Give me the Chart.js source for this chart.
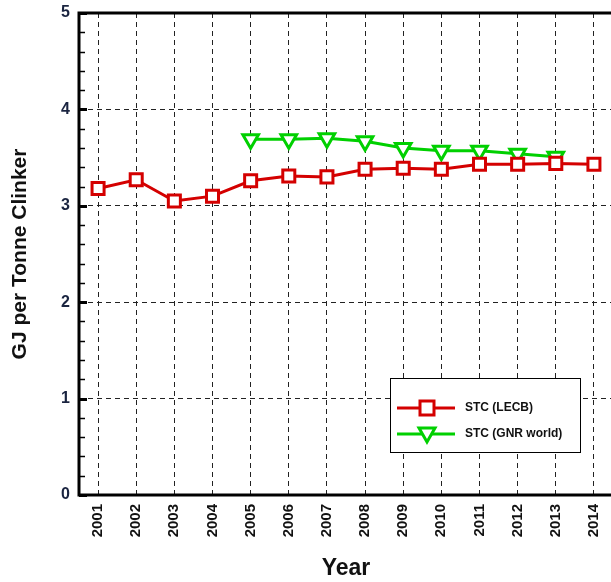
<!DOCTYPE html>
<html><head><meta charset="utf-8">
<script src="https://cdn.jsdelivr.net/npm/chart.js@4/dist/chart.umd.min.js"></script>
<style>html,body{margin:0;padding:0;overflow:hidden;background:#fff}#wrap{width:625px;height:582px}</style>
</head><body><div id="wrap"><canvas id="c" width="625" height="582"></canvas></div>
<script>
const years = ['2001','2002','2003','2004','2005','2006','2007','2008','2009','2010','2011','2012','2013','2014'];
const lecb = [3.18,3.27,3.05,3.10,3.26,3.31,3.30,3.38,3.39,3.38,3.43,3.43,3.44,3.43];
const gnr = [null,null,null,null,3.69,3.69,3.70,3.67,3.60,3.57,3.57,3.54,3.51,null];
const yTicks = [0,1,2,3,4,5];
const seriesNames = ['STC (LECB)','STC (GNR world)'];
const RED = '#d40000', GREEN = '#00d000';

const frame = {
  id:'frame',
  beforeDatasetsDraw(chart){
    const {ctx, chartArea:a, scales:{y}} = chart;
    ctx.save();
    ctx.strokeStyle='#000';
    for(let v=0; v<=5.0001; v+=0.2){
      const py = Math.round(y.getPixelForValue(v))+0.5;
      const major = Math.abs(v-Math.round(v))<1e-6;
      ctx.beginPath(); ctx.moveTo(a.left, py); ctx.lineTo(a.left+(major?8:6), py);
      ctx.lineWidth = major?3:1.5; ctx.stroke();
    }
    ctx.restore();
  },
  afterDraw(chart){
    const {ctx, chartArea:a} = chart;
    ctx.save();
    ctx.strokeStyle='#000'; ctx.lineWidth=3;
    ctx.strokeRect(a.left, a.top, a.right-a.left, a.bottom-a.top);
    const lx=390, ly=378, lw=190, lh=74;
    ctx.fillStyle='#fff'; ctx.fillRect(lx,ly,lw,lh);
    ctx.lineWidth=1; ctx.strokeStyle='#000'; ctx.strokeRect(lx+0.5,ly+0.5,lw,lh);
    const rows=[{y:408,c:RED,s:'rect'},{y:434,c:GREEN,s:'tri'}];
    rows.forEach((r,i)=>{
      ctx.strokeStyle=r.c; ctx.lineWidth=3;
      ctx.beginPath(); ctx.moveTo(397,r.y); ctx.lineTo(455,r.y); ctx.stroke();
      ctx.fillStyle='#fff';
      if(r.s==='rect'){ ctx.fillRect(420,r.y-7,14,14); ctx.strokeRect(420,r.y-7,14,14); }
      else { ctx.beginPath(); ctx.moveTo(419,r.y-6); ctx.lineTo(435,r.y-6); ctx.lineTo(427,r.y+8); ctx.closePath(); ctx.fill(); ctx.stroke(); }
      ctx.fillStyle='#111'; ctx.font='bold 12px "Liberation Sans", Arial, sans-serif';
      ctx.textBaseline='middle'; ctx.textAlign='left';
      ctx.fillText(seriesNames[i], 465, r.y);
    });
    ctx.restore();
  }
};

new Chart(document.getElementById('c'), {
  type:'line',
  data:{labels:years, datasets:[
    {label:seriesNames[0], data:lecb, borderColor:RED, backgroundColor:'#fff', borderWidth:3,
     pointStyle:'rect', pointRadius:8.5, pointBorderWidth:3, pointBackgroundColor:'#fff', pointBorderColor:RED, tension:0},
    {label:seriesNames[1], data:gnr, borderColor:GREEN, backgroundColor:'#fff', borderWidth:3,
     pointStyle:'triangle', rotation:180, pointRadius:9, pointBorderWidth:3, pointBackgroundColor:'#fff', pointBorderColor:GREEN, tension:0, spanGaps:false}
  ]},
  options:{
    responsive:false, animation:false, devicePixelRatio:1,
    layout:{padding:{top:13, right:7, left:0, bottom:0}},
    plugins:{legend:{display:false}, tooltip:{enabled:false}},
    scales:{
      x:{
        offset:true,
        grid:{color:'#222', lineWidth:1, drawTicks:false, offset:false},
        border:{display:false, dash:[5,4]},
        ticks:{maxRotation:90, minRotation:90, padding:9, color:'#111', font:{family:'"Liberation Sans", Arial', size:15, weight:'bold'}},
        title:{display:true, text:'Year', color:'#111', font:{family:'"Liberation Sans", Arial', size:23, weight:'bold'}, padding:{top:10,bottom:0}},
        afterFit(s){ s.height = 87; s.paddingLeft = 0; s.paddingRight = 0; s.paddingTop = 0; s.paddingBottom = 0; }
      },
      y:{
        min:0, max:5,
        afterBuildTicks(s){ s.ticks = yTicks.map(v=>({value:v})); },
        grid:{color:'#222', lineWidth:1, drawTicks:false},
        border:{display:false, dash:[5,4]},
        ticks:{padding:9, color:'#1a2440', font:{family:'"Liberation Sans", Arial', size:16, weight:'bold'}},
        title:{display:true, text:'GJ per Tonne Clinker', color:'#111', font:{family:'"Liberation Sans", Arial', size:21, weight:'bold'}, padding:{top:8,bottom:10}},
        afterFit(s){ s.width = 79; s.paddingTop = 0; s.paddingBottom = 0; }
      }
    }
  },
  plugins:[frame]
});
</script></body></html>
